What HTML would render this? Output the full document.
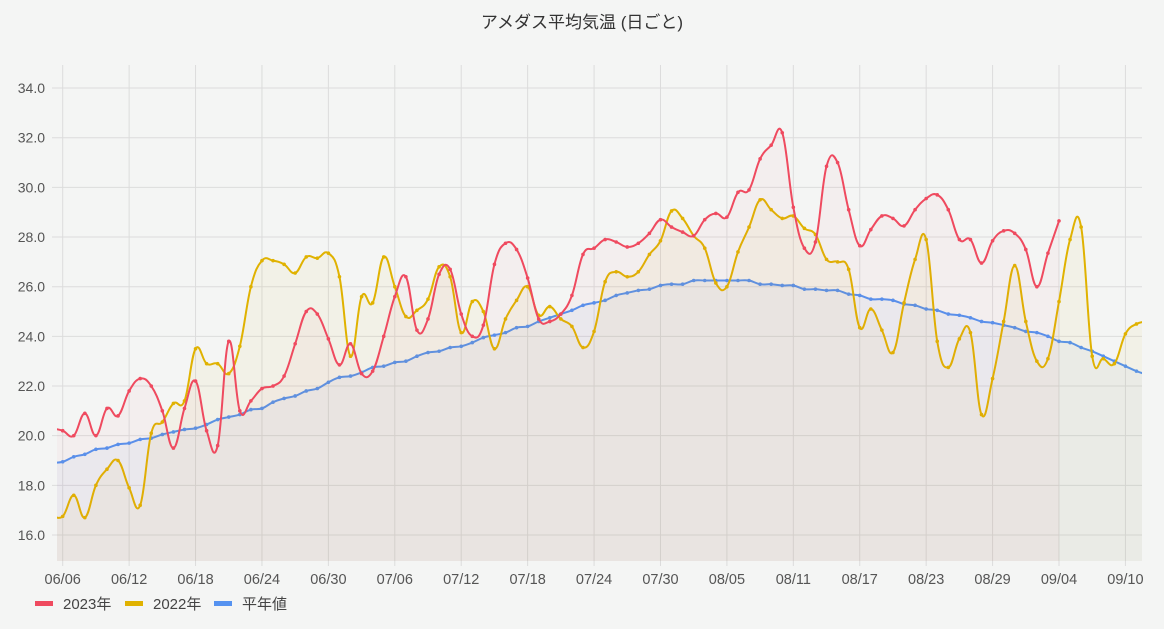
<!DOCTYPE html>
<html><head><meta charset="utf-8">
<style>
html,body{margin:0;padding:0;background:#f4f5f4;}
body{width:1164px;height:624px;overflow:hidden;font-family:"Liberation Sans","Noto Sans CJK JP",sans-serif;}
svg text{font-family:"Liberation Sans","Noto Sans CJK JP",sans-serif;}
</style></head>
<body>
<svg id="chart" width="1164" height="624" xmlns="http://www.w3.org/2000/svg">
<text x="582" y="28" text-anchor="middle" font-size="17" fill="#333">アメダス平均気温 (日ごと)</text>
<g id="grid"></g>
<defs><clipPath id="plotclip"><rect x="57" y="63" width="1085" height="498"/></clipPath></defs>
<g id="series" clip-path="url(#plotclip)"></g>
<g id="xlabels"></g>
<g id="ylabels"></g>
<g>
 <g><rect x="35" y="601" width="18" height="5" fill="#ef4a5f"/><text x="63" y="609" font-size="15" fill="#444">2023年</text></g>
 <g><rect x="125" y="601" width="18" height="5" fill="#e0b200"/><text x="153" y="609" font-size="15" fill="#444">2022年</text></g>
 <g><rect x="214" y="601" width="18" height="5" fill="#5592f0"/><text x="242" y="609" font-size="15" fill="#444">平年値</text></g>
</g>
</svg>
<script>
const startMonth = 6, startDay = 5;
const yTicks = [16,18,20,22,24,26,28,30,32,34];
const xTickLabels = ["06/06","06/12","06/18","06/24","06/30","07/06","07/12","07/18","07/24","07/30","08/05","08/11","08/17","08/23","08/29","09/04","09/10"];
const temps2023 = [20.3,20.2,20.0,20.9,20.0,21.1,20.8,21.8,22.3,22.0,21.0,19.5,21.1,22.2,20.2,19.6,23.8,21.0,21.4,21.9,22.0,22.4,23.7,25.0,24.9,23.9,
22.85,23.7,22.5,22.6,24.0,25.6,26.4,24.25,24.7,26.5,26.7,24.9,24.0,24.45,26.9,27.75,27.5,26.35,24.7,24.6,24.9,25.65,27.3,27.55,27.9,27.8,27.6,27.75,28.15,28.7,28.4,
28.2,28.05,28.7,28.95,28.8,29.8,29.9,31.15,31.7,32.2,29.2,27.55,27.8,30.85,31.0,29.1,27.65,28.3,28.85,28.75,28.45,29.1,29.55,29.7,29.1,27.9,27.9,26.95,27.85,28.25,28.15,
27.5,26.0,27.35,28.65];
const temps2022 = [16.8,16.75,17.6,16.7,18.0,18.65,19.0,17.9,17.2,20.1,20.55,21.3,21.4,23.5,22.9,22.9,22.5,23.6,26.0,27.05,27.05,26.9,26.55,27.2,27.15,27.35,
26.4,23.2,25.6,25.35,27.2,26.0,24.8,25.05,25.5,26.8,26.4,24.15,25.4,25.0,23.5,24.7,25.45,26.0,24.85,25.2,24.7,24.4,23.55,24.2,26.2,26.6,26.4,26.6,27.3,27.85,29.05,
28.75,28.05,27.55,26.15,26.0,27.4,28.4,29.5,29.1,28.75,28.85,28.35,28.1,27.1,27.0,26.7,24.35,25.1,24.25,23.35,25.35,27.1,27.9,23.8,22.75,23.9,24.15,20.85,22.3,24.6,26.85,
24.6,23.0,23.1,25.4,27.9,28.4,23.2,23.1,22.9,24.1,24.5,24.6];
const tempsNormal = [18.9,18.95,19.15,19.25,19.45,19.5,19.65,19.7,19.85,19.9,20.05,20.15,20.25,20.3,20.45,20.65,20.75,20.85,21.05,21.1,21.35,21.5,21.6,21.8,21.9,22.15,
22.35,22.4,22.55,22.75,22.8,22.95,23.0,23.2,23.35,23.4,23.55,23.6,23.75,23.95,24.05,24.15,24.35,24.4,24.6,24.75,24.9,25.05,25.25,25.35,25.45,25.65,25.75,25.85,25.9,26.05,26.1,
26.1,26.25,26.25,26.25,26.25,26.25,26.25,26.1,26.1,26.05,26.05,25.9,25.9,25.85,25.85,25.7,25.65,25.5,25.5,25.45,25.3,25.25,25.1,25.05,24.9,24.85,24.75,24.6,24.55,24.45,24.35,
24.2,24.15,24.0,23.8,23.75,23.55,23.4,23.2,23.0,22.8,22.6,22.45];

const NS="http://www.w3.org/2000/svg";
const X0=62.7, DX=11.07, YBASE=535, YPX=24.83;
const xOf = i => X0 + (i-1)*DX;            // index 0 = 06/05
const yOf = v => YBASE - (v-16)*YPX;
function mk(tag, attrs, parent){const e=document.createElementNS(NS,tag);for(const k in attrs)e.setAttribute(k,attrs[k]);parent.appendChild(e);return e;}
function dayIndex(lbl){const [m,d]=lbl.split('/').map(Number);const base=new Date(2023,startMonth-1,startDay);return Math.round((new Date(2023,m-1,d)-base)/86400000);}

const grid=document.getElementById('grid');
const yl=document.getElementById('ylabels');
yTicks.forEach(t=>{
  const y=yOf(t);
  const l=mk('line',{x1:52,x2:1142,y1:y,y2:y,stroke:'#dcdcdc','stroke-width':1},grid);
  
  
  const tx=mk('text',{x:45,y:y+5,'text-anchor':'end','font-size':14,fill:'#555'},yl);
  tx.textContent=t.toFixed(1);
  
  
});
const xl=document.getElementById('xlabels');
xTickLabels.forEach(lbl=>{
  const x=xOf(dayIndex(lbl));
  const l=mk('line',{x1:x,x2:x,y1:65,y2:566,stroke:'#dcdcdc','stroke-width':1},grid);
  
  
  const tx=mk('text',{x:x,y:584,'text-anchor':'middle','font-size':14.5,fill:'#555'},xl);
  tx.textContent=lbl;
  
  
});

function splinePath(pts,t){
  let d='M'+pts[0][0]+','+pts[0][1];
  for(let i=0;i<pts.length-1;i++){
    const p0=pts[i-1]||pts[i],p1=pts[i],p2=pts[i+1],p3=pts[i+2]||p2;
    const c1=[p1[0]+(p2[0]-p0[0])*t/2,p1[1]+(p2[1]-p0[1])*t/2];
    const c2=[p2[0]-(p3[0]-p1[0])*t/2,p2[1]-(p3[1]-p1[1])*t/2];
    d+=' C'+c1[0]+','+c1[1]+' '+c2[0]+','+c2[1]+' '+p2[0]+','+p2[1];
  }
  return d;
}
const sg=document.getElementById('series');
function drawSeries(vals,color,fill,name){
  const pts=vals.map((v,i)=>[xOf(i),yOf(v)]);
  const d=splinePath(pts,0.4);
  const g=mk('g',{},sg);
  
  
  const a=mk('path',{d:d+' L'+pts[pts.length-1][0]+',561 L'+pts[0][0]+',561 Z',fill:fill,stroke:'none'},g);
  
  
  const l=mk('path',{d:d,fill:'none',stroke:color,'stroke-width':2},g);
  
  
  pts.forEach(p=>{
    const c=mk('circle',{cx:p[0],cy:p[1],r:1.8,fill:color},g);
    
    
  });
}
drawSeries(tempsNormal,'#5592f0','rgba(85,146,240,0.05)','series-normal');
drawSeries(temps2022,'#e0b200','rgba(224,178,0,0.05)','series-2022');
drawSeries(temps2023,'#ef4a5f','rgba(239,74,95,0.04)','series-2023');
</script>
</body></html>
